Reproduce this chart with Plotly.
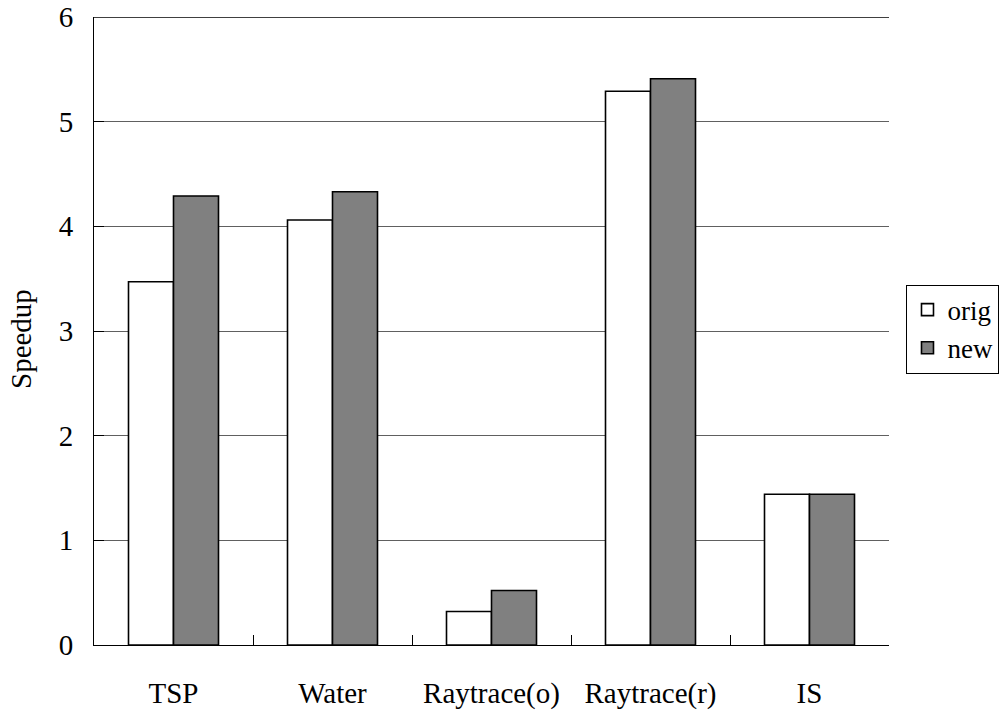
import plotly.graph_objects as go

# Speedup per benchmark for the original and new versions
benchmarks = ["TSP", "Water", "Raytrace(o)", "Raytrace(r)", "IS"]
orig_speedup = [3.47, 4.06, 0.32, 5.29, 1.44]
new_speedup = [4.29, 4.33, 0.52, 5.41, 1.44]
y_ticks = [0, 1, 2, 3, 4, 5, 6]

FONT = "Liberation Serif, Times New Roman, serif"
SIZE = 29

fig = go.Figure()
fig.add_trace(go.Bar(
    name="orig", x=benchmarks, y=orig_speedup,
    marker=dict(color="white", line=dict(color="black", width=1.6)),
))
fig.add_trace(go.Bar(
    name="new", x=benchmarks, y=new_speedup,
    marker=dict(color="#808080", line=dict(color="black", width=1.6)),
))

fig.update_layout(
    width=1001, height=711,
    margin=dict(l=94, r=112, t=17, b=66, autoexpand=False),
    paper_bgcolor="white", plot_bgcolor="white",
    font=dict(family=FONT, size=SIZE, color="black"),
    barmode="group", bargap=0.434, bargroupgap=0,
    showlegend=True,
    legend=dict(
        x=1.022, y=0.574, xanchor="left", yanchor="top",
        bordercolor="black", borderwidth=1, bgcolor="white",
        font=dict(family=FONT, size=27),
        itemwidth=30, tracegroupgap=0,
    ),
)

fig.update_xaxes(
    type="category", automargin=False,
    showline=True, linecolor="black", linewidth=1,
    ticks="inside", ticklen=10, tickcolor="black", tickwidth=1,
    tickson="boundaries",
    showgrid=False,
    ticklabelstandoff=22,
    tickfont=dict(family=FONT, size=SIZE),
)
fig.update_yaxes(
    range=[0, 6], tickvals=y_ticks, automargin=False,
    showline=True, linecolor="black", linewidth=1,
    ticks="inside", ticklen=10, tickcolor="black", tickwidth=1,
    showgrid=True, gridcolor="#606060", gridwidth=1,
    zeroline=False,
    ticklabelstandoff=14,
    tickfont=dict(family=FONT, size=SIZE),
)

# Value-axis title, set close to the left edge
fig.add_annotation(
    text="Speedup", textangle=-90, showarrow=False,
    xref="paper", yref="paper", x=0, y=0.5,
    xanchor="center", yanchor="middle", xshift=-73, yshift=-8,
    font=dict(family=FONT, size=SIZE),
)

# Solid top border across the plot at the maximum of the value axis
fig.add_shape(type="line", xref="paper", yref="y", x0=0, x1=1, y0=6, y1=6,
              line=dict(color="black", width=1.5))

fig.write_html("out.html")
